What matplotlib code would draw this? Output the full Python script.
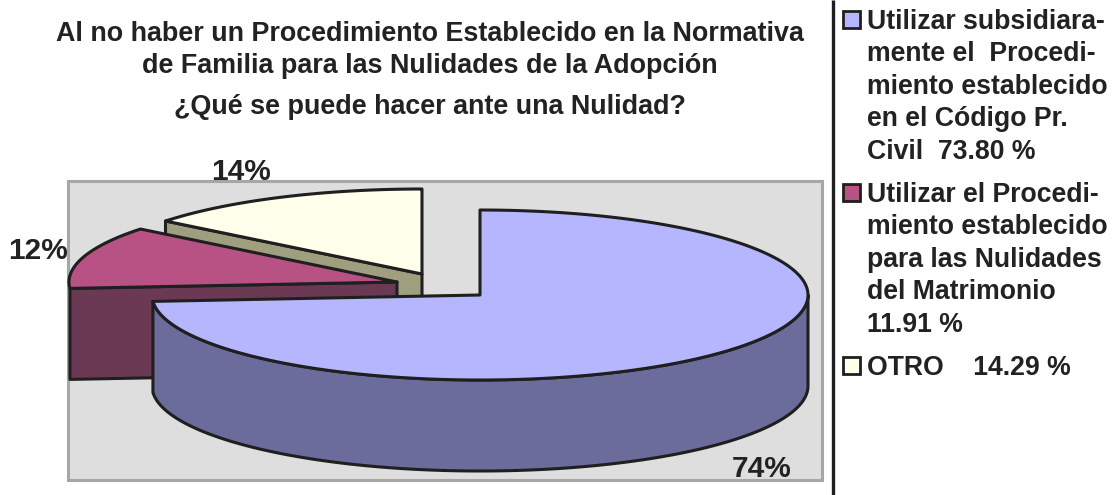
import numpy as np
import matplotlib
matplotlib.use('Agg')
import matplotlib.pyplot as plt
from matplotlib.patches import Polygon, Rectangle

plt.rcParams['font.family'] = ['Liberation Sans', 'DejaVu Sans']

title_lines = ['Al no haber un Procedimiento Establecido en la Normativa',
               'de Familia para las Nulidades de la Adopción',
               '¿Qué se puede hacer ante una Nulidad?']
shares = [73.80, 11.91, 14.29]
legend_labels = ['Utilizar subsidiara-\nmente el  Procedi-\nmiento establecido\nen el Código Pr.\nCivil  73.80 %',
                 'Utilizar el Procedi-\nmiento establecido\npara las Nulidades\ndel Matrimonio\n11.91 %',
                 'OTRO    14.29 %']
top_colors = ['#B6B6FF', '#B85284', '#FFFFEB']
side_colors = ['#6B6B9C', '#6B3954', '#9F9F80']
label_pos = [(762, 469), (38, 251), (241, 172)]
legend_y = [11, 184, 357]

centers = [(480, 295), (397, 282), (422, 274)]
rx, ry, depth = 328, 85, 91
ink = '#1F1F1F'
text_color = '#222222'

fig = plt.figure(figsize=(11.12, 4.95), dpi=100)
ax = fig.add_axes([0, 0, 1, 1])
ax.set_xlim(0, 1112)
ax.set_ylim(495, 0)
ax.axis('off')


def rim(center, a0, a1, dy=0):
    # angles in degrees, counter-clockwise on screen
    t = np.radians(np.linspace(a0, a1, 200))
    return np.column_stack([center[0] + rx*np.cos(t), center[1] - ry*np.sin(t) + dy])


def poly(pts, color, z):
    ax.add_patch(Polygon(pts, closed=True, fc=color, ec=ink, lw=2.2, joinstyle='round', zorder=z))


ax.add_patch(Rectangle((68, 181), 754, 299, fc='#DEDEDE', ec='#A6A6A6', lw=2.2, zorder=1))

# slices run clockwise from 12 o'clock
ends = 90 - np.cumsum([0] + shares)*3.6

# otro, cut face then top
c = centers[2]
edge = rim(c, ends[2], ends[2], 0)[0]
poly([c, edge, edge + [0, depth], np.add(c, [0, depth])], side_colors[2], 2)
poly(np.vstack([[c], rim(c, ends[3], ends[2])]), top_colors[2], 3)

# procedimiento matrimonio
c = centers[1]
edge = rim(c, ends[1], ends[1], 0)[0]
poly([c, edge, edge + [0, depth], np.add(c, [0, depth])], side_colors[1], 4)
poly(np.vstack([[c], rim(c, ends[2], ends[1])]), top_colors[1], 5)

# codigo civil, outer wall on the front half only
c = centers[0]
poly(np.vstack([rim(c, ends[1] + 360, 360), rim(c, 360, ends[1] + 360, depth)]), side_colors[0], 6)
poly(np.vstack([[c], rim(c, ends[0], ends[1])]), top_colors[0], 7)

for share, (x, y) in zip(shares, label_pos):
    ax.text(x, y, f'{round(share)}%', fontsize=21.5, fontweight='bold', color=text_color,
            ha='center', va='center', zorder=9)

for line, y in zip(title_lines, [34, 66, 107]):
    ax.text(430, y, line, fontsize=19.35, fontweight='bold', color=text_color,
            ha='center', va='center')

ax.plot([833, 833], [0, 495], color=ink, lw=2.4, solid_capstyle='butt')

for y, color, label in zip(legend_y, top_colors, legend_labels):
    ax.add_patch(Rectangle((843, y), 17, 17, fc=color, ec=ink, lw=2.0))
    ax.text(867, y - 2, label, fontsize=19.15, fontweight='bold', color=text_color,
            ha='left', va='top', linespacing=1.32)

plt.savefig('out.png', dpi=100)
